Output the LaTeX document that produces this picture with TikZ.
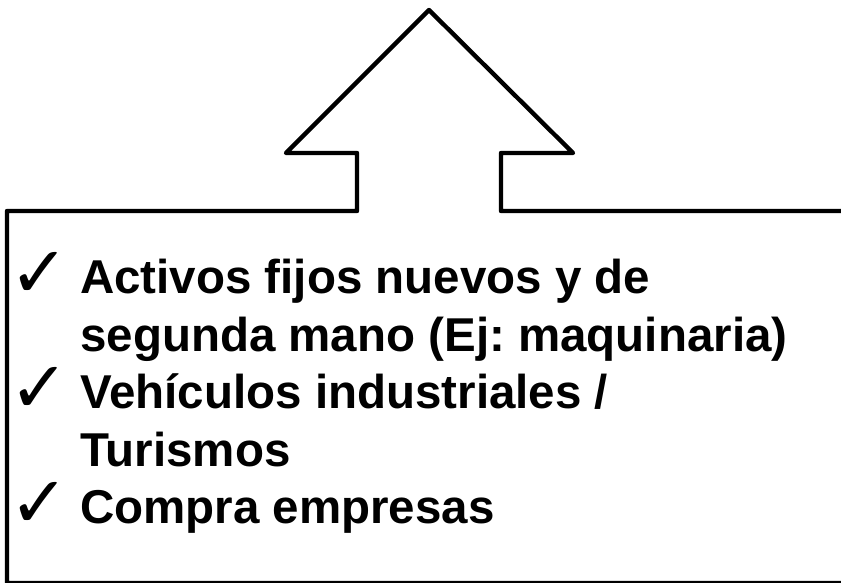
\documentclass[tikz,border=0pt]{standalone}
\usepackage{graphicx}
\usepackage{fontspec}
\setmainfont{Liberation Sans}
\newfontfamily\symfont{DejaVu Sans}
\frenchspacing
\newcommand{\mytick}{\resizebox{60pt}{!}{\symfont ✓}}
\begin{document}
\begin{tikzpicture}[x=1pt,y=1pt,
  outline/.style={draw=black,line width=4.4pt,line join=round,line cap=round},
  itemtext/.style={anchor=base west,inner sep=0pt,font=\fontsize{47.5}{57}\selectfont\bfseries},
  tick/.style={anchor=base west,inner sep=0pt}]
\useasboundingbox (0,0) rectangle (841,582);
\clip (0,0) rectangle (841,582);
\draw[outline] (860,371) -- (501,371) -- (501,429) -- (573,429) -- (429,572)
  -- (286,429) -- (357,429) -- (357,371) -- (7,371) -- (7,-1) -- (860,-1);
\node[tick] (c1) at (9,285) {\mytick};
\node[tick] (c2) at (9,170) {\mytick};
\node[tick] (c3) at (9,55) {\mytick};
\node[itemtext] (t1) at (80,288) {Activos fijos nuevos y de};
\node[itemtext] (t2) at (80,231) {segunda mano (Ej: maquinaria)};
\node[itemtext] (t3) at (80,174) {Vehículos industriales /};
\node[itemtext] (t4) at (80,116) {Turismos};
\node[itemtext] (t5) at (80,59) {Compra empresas};
\end{tikzpicture}
\end{document}
